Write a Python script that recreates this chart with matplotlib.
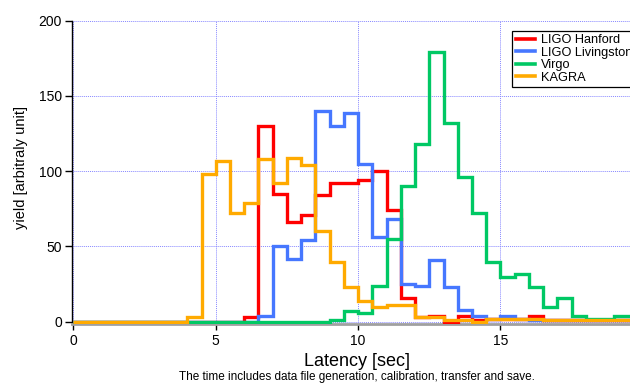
import numpy as np
import matplotlib
matplotlib.use("Agg")
import matplotlib.pyplot as plt

plt.rcParams['font.family'] = ['Liberation Sans', 'DejaVu Sans']

bin_width = 0.5
n_bins = 40

hanford = [0]*12 + [3, 130, 85, 66, 71, 84, 92, 92, 94, 100, 74, 16, 3, 4, 0, 4, 1, 2, 2, 2, 4,
                    1, 1, 1, 1, 1, 1, 1]
livingston = [0]*13 + [3.5, 50, 42, 54, 140, 130, 139, 105, 56, 68, 25, 24, 41, 23, 8, 4, 2, 4, 2,
                       1, 1, 1, 1, 1, 1, 1, 1]
virgo = [0]*18 + [1.3, 7, 6, 24, 55, 90, 118, 179, 132, 96, 72, 40, 30, 32, 23, 10, 16, 3.5, 2, 2,
                  4, 4]
kagra = [0]*8 + [3, 98, 107, 72, 79, 108, 92, 109, 104, 60, 40, 23, 14, 10, 11, 11, 3, 3, 1, 1, 0,
                 2, 2, 2, 2, 1, 1, 1, 1, 1, 1, 1]

series = [("LIGO Hanford", hanford, "#ff0000"),
          ("LIGO Livingston", livingston, "#4677ff"),
          ("Virgo", virgo, "#00c864"),
          ("KAGRA", kagra, "#ffaa00")]

x_ticks = [0, 5, 10, 15]
y_ticks = [0, 50, 100, 150, 200]

edges = np.arange(n_bins + 1) * bin_width

W, H = 630, 383
fig = plt.figure(figsize=(W / 100, H / 100), dpi=100)
ax = fig.add_axes([71.7 / W, 1 - 324 / H, 1 - 71.7 / W, (324 - 20.7) / H])

for i, (name, vals, col) in enumerate(series):
    ax.stairs(vals, edges, color=col, linewidth=2.4, label=name,
              zorder=3 + (1 if name == "KAGRA" else 0), baseline=None)

ax.set_xlim(-0.06, 19.55)
ax.set_ylim(-1.5, 200)
ax.set_xticks(x_ticks)
ax.set_yticks(y_ticks)
ax.grid(True, color="#8888ff", linestyle=(0, (1, 1)), linewidth=0.7)
ax.set_axisbelow(True)

for s in ["top", "right"]:
    ax.spines[s].set_visible(False)
ax.spines["left"].set_color("black")
ax.spines["left"].set_linewidth(1.0)
ax.spines["bottom"].set_color("#a0a0a0")
ax.spines["bottom"].set_linewidth(2.0)
ax.tick_params(axis="y", length=5, width=1, pad=2, labelsize=10, direction="out")
ax.tick_params(axis="x", length=4, width=1, pad=3, labelsize=10, direction="out",
               color="black")

fig.text(20.7 / W, 1 - 167 / H, "yield [arbitraly unit]", rotation=90,
         ha="center", va="center", fontsize=10.5)

fig.text(0.567, 1 - 361.5 / H, "Latency [sec]", ha="center", va="center",
         fontsize=13)
fig.text(0.566, 1 - 376.7 / H,
         "The time includes data file generation, calibration, transfer and save.",
         ha="center", va="center", fontsize=8.5)

leg = ax.legend(loc="upper left", bbox_to_anchor=(0.7895, 0.966), borderaxespad=0,
                fontsize=9.2, labelspacing=0.04, handlelength=1.55, handletextpad=0.4,
                borderpad=0.25, fancybox=False, framealpha=1, edgecolor="black")
leg.get_frame().set_linewidth(0.9)
for line in leg.get_lines():
    line.set_linewidth(2.6)

fig.savefig("out.png", dpi=100)
